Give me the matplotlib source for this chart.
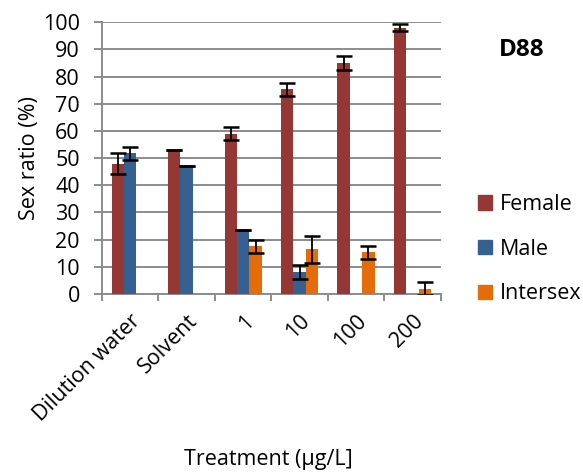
import matplotlib.pyplot as plt
import numpy as np
from matplotlib.patches import Patch

plt.rcParams['font.family'] = ['Open Sans', 'DejaVu Sans']

categories = ["Dilution water", "Solvent", "1", "10", "100", "200"]
female = [48, 53, 59, 75.3, 85, 98]
female_err = [3.7, 0, 2.3, 2.5, 2.5, 1.2]
male = [51.7, 47, 23.6, 8.1, 0, 0]
male_err = [2.5, 0, 0, 2.5, 0, 0]
intersex = [0, 0, 17.5, 16.4, 15.3, 2]
intersex_err = [0, 0, 2.5, 5, 2.5, 2.5]

colors = {"Female": "#953735", "Male": "#376092", "Intersex": "#E46C0A"}
grid_col = "#8c8c8c"
fs = 15.5

fig = plt.figure(figsize=(5.83, 4.72), dpi=100)
ax = fig.add_axes([0.175, 0.377, 0.581, 0.576])

x = np.arange(len(categories))
w = 0.22
series = [("Female", female, female_err, -w),
          ("Male", male, male_err, 0),
          ("Intersex", intersex, intersex_err, w)]

for name, vals, errs, off in series:
    vals = np.array(vals, dtype=float)
    errs = np.array(errs, dtype=float)
    ax.bar(x + off, vals, w, color=colors[name], zorder=3)
    # only bars that exist get error bars
    mask = vals > 0
    ax.errorbar(x[mask] + off, vals[mask], yerr=errs[mask], fmt="none",
                ecolor="black", elinewidth=1.3, capsize=5.5, capthick=1.8, zorder=4)

ax.set_xlim(-0.5, len(categories) - 0.5)
ax.set_ylim(0, 100)
ax.set_yticks(np.arange(0, 101, 10))
ax.yaxis.grid(True, color=grid_col, linewidth=1.4, zorder=0)
ax.set_axisbelow(True)

ax.set_xticks(x)
ax.set_xticklabels(categories, rotation=45, ha="right", rotation_mode="anchor", fontsize=fs)
ax.tick_params(axis="x", length=0, pad=12)
ax.set_xticks(np.arange(-0.5, len(categories), 1), minor=True)
ax.tick_params(axis="x", which="minor", length=5, color=grid_col, width=1.4)
ax.tick_params(axis="y", length=6, color=grid_col, width=1.4, labelsize=fs, pad=10)

for s in ["top", "right"]:
    ax.spines[s].set_visible(False)
ax.spines["left"].set_color(grid_col)
ax.spines["left"].set_linewidth(1.4)
ax.spines["bottom"].set_color(grid_col)
ax.spines["bottom"].set_linewidth(1.4)

ax.set_ylabel("Sex ratio (%)", fontsize=fs, labelpad=2)
fig.text(268 / 583, 1 - 459 / 472, "Treatment (µg/L]", fontsize=fs, ha="center", va="center")
fig.text(522 / 583, 1 - 50 / 472, "D88", fontsize=17.5, fontweight="bold", ha="center", va="center")

handles = [Patch(color=colors[n]) for n in ["Female", "Male", "Intersex"]]
fig.legend(handles, ["Female", "Male", "Intersex"], loc="upper left",
           bbox_to_anchor=(478 / 583, 1 - 194 / 472), frameon=False, fontsize=fs,
           borderaxespad=0, borderpad=0,
           handlelength=0.65, handleheight=0.65, handletextpad=0.35, labelspacing=1.1)

fig.savefig("out.png", dpi=100)
